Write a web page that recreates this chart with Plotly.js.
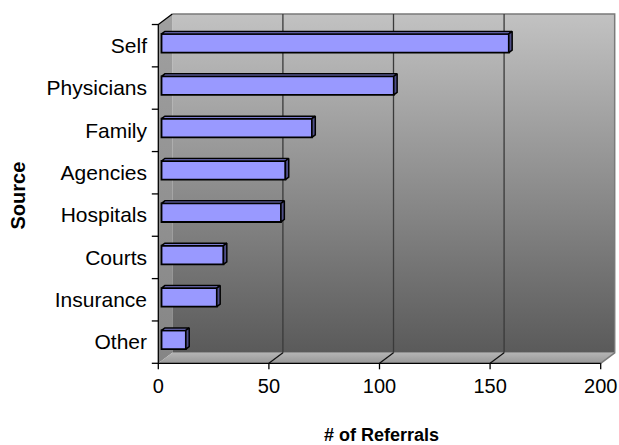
<!DOCTYPE html>
<html>
<head>
<meta charset="utf-8">
<script src="https://cdn.plot.ly/plotly-3.0.1.min.js"></script>
<style>html,body{margin:0;padding:0;background:#fff;}#chart{width:619px;height:445px;}</style>
</head>
<body>
<div id="chart"></div>
<script>
// ---- data (bottom to top) ----
const categories = ['Other', 'Insurance', 'Courts', 'Hospitals', 'Agencies', 'Family', 'Physicians', 'Self'];
const referrals = [11, 25, 28, 54, 56, 68, 105, 157];
const xTickValues = [0, 50, 100, 150, 200];
const xTitle = '# of Referrals';
const yTitle = 'Source';

// ---- geometry / style ----
const PX_X = 2.212, PX_Y = 42.35;           // pixels per data unit
const DX = 14 / PX_X, DY = 10.5 / PX_Y;      // 3-D depth offset in data units
const X_RANGE = [-3.752, 206.92];
const Y_RANGE = [-0.7054, 7.890];
const XMAX = xTickValues[xTickValues.length - 1];
const YLO = -0.5, YHI = categories.length - 0.5;
const F1 = 0.23, F2 = 0.47;                  // bar depth position (fraction of depth)
const HALF = 0.22;                            // half bar thickness
const FONT = 'Liberation Sans, Arial, sans-serif';

const idx = categories.map((c, i) => i);
const traces = [];
const base = {type: 'scatter', mode: 'lines', hoverinfo: 'skip', showlegend: false, xaxis: 'x', yaxis: 'y'};

// back wall
traces.push(Object.assign({}, base, {
  x: [DX, XMAX + DX, XMAX + DX, DX, DX],
  y: [YLO + DY, YLO + DY, YHI + DY, YHI + DY, YLO + DY],
  fill: 'toself', line: {width: 0, color: 'rgba(0,0,0,0)'},
  fillgradient: {type: 'vertical', colorscale: [[0, '#5a5a5a'], [1, '#c2c2c2']]}
}));
// side wall
traces.push(Object.assign({}, base, {
  x: [0, 0, DX, DX, 0],
  y: [YLO, YHI, YHI + DY, YLO + DY, YLO],
  fill: 'toself', line: {width: 0, color: 'rgba(0,0,0,0)'},
  fillgradient: {type: 'vertical', colorscale: [[0, '#858585'], [1, '#a0a0a0']]}
}));
// floor
traces.push(Object.assign({}, base, {
  x: [0, XMAX, XMAX + DX, DX, 0],
  y: [YLO, YLO, YLO + DY, YLO + DY, YLO],
  fill: 'toself', line: {width: 0, color: 'rgba(0,0,0,0)'},
  fillgradient: {type: 'vertical', colorscale: [[0, '#989898'], [1, '#b4b4b4']]}
}));
// back wall border (top + right) and floor right edge
traces.push(Object.assign({}, base, {
  x: [DX, XMAX + DX, XMAX + DX, XMAX],
  y: [YHI + DY, YHI + DY, YLO + DY, YLO],
  line: {width: 1.5, color: '#7a7a7a'}
}));
// gridlines on back wall and floor diagonals
const gx = [], gy = [], fx = [], fy = [];
xTickValues.slice(1, -1).forEach(v => {
  gx.push(v + DX, v + DX, null); gy.push(YLO + DY, YHI + DY, null);
  fx.push(v, v + DX, null); fy.push(YLO, YLO + DY, null);
});
traces.push(Object.assign({}, base, {x: gx, y: gy, line: {width: 1.3, color: '#3a3a3a'}}));
traces.push(Object.assign({}, base, {x: fx, y: fy, line: {width: 1.3, color: '#111111'}}));
// axis lines
traces.push(Object.assign({}, base, {
  x: [XMAX, 0, 0, DX], y: [YLO, YLO, YHI, YHI + DY],
  line: {width: 1.3, color: '#000000'}
}));
// ticks
const tx = [], ty = [];
const TLX = 6.5 / PX_X, TLY = 6 / PX_Y;
for (let k = 0; k <= categories.length; k++) { tx.push(-TLX, 0, null); ty.push(YLO + k, YLO + k, null); }
xTickValues.forEach(v => { tx.push(v, v, null); ty.push(YLO, YLO - TLY, null); });
traces.push(Object.assign({}, base, {x: tx, y: ty, line: {width: 1.3, color: '#000000'}}));

// ---- bars (overlay subplot so they sit above the walls) ----
traces.push({
  type: 'bar', orientation: 'h', xaxis: 'x2', yaxis: 'y2', hoverinfo: 'skip', showlegend: false,
  y: idx.map(i => i + F1 * DY), x: referrals, base: referrals.map(() => F1 * DX),
  width: 2 * HALF,
  marker: {color: '#9999ff', line: {color: '#000000', width: 1.8}}
});
const topX = [], topY = [], sideX = [], sideY = [];
const ddx = (F2 - F1) * DX, ddy = (F2 - F1) * DY;
referrals.forEach((v, i) => {
  const x0 = F1 * DX, x1 = x0 + v;
  const yb = i - HALF + F1 * DY, yt = i + HALF + F1 * DY;
  topX.push(x0, x1, x1 + ddx, x0 + ddx, x0, null);
  topY.push(yt, yt, yt + ddy, yt + ddy, yt, null);
  sideX.push(x1, x1, x1 + ddx, x1 + ddx, x1, null);
  sideY.push(yb, yt, yt + ddy, yb + ddy, yb, null);
});
traces.push({type: 'scatter', mode: 'lines', xaxis: 'x2', yaxis: 'y2', hoverinfo: 'skip', showlegend: false,
  x: topX, y: topY, fill: 'toself', fillcolor: '#7b7bcf', line: {color: '#000000', width: 1.5}});
traces.push({type: 'scatter', mode: 'lines', xaxis: 'x2', yaxis: 'y2', hoverinfo: 'skip', showlegend: false,
  x: sideX, y: sideY, fill: 'toself', fillcolor: '#4f4f88', line: {color: '#000000', width: 1.5}});

const layout = {
  width: 619, height: 445, autosize: false,
  margin: {l: 150, r: 3, t: 8, b: 73},
  paper_bgcolor: '#ffffff', plot_bgcolor: 'rgba(0,0,0,0)',
  font: {family: FONT, size: 20, color: '#000000'},
  showlegend: false,
  xaxis: {range: X_RANGE, tickvals: xTickValues, ticks: '', showgrid: false, zeroline: false, showline: false,
    ticklabelstandoff: 0, tickfont: {family: FONT, size: 20, color: '#000'}, fixedrange: true},
  yaxis: {range: Y_RANGE, tickvals: idx, ticktext: categories, ticks: '', showgrid: false, zeroline: false,
    showline: false, ticklabelstandoff: 2, tickfont: {family: FONT, size: 21, color: '#000'}, fixedrange: true},
  xaxis2: {range: X_RANGE, overlaying: 'x', anchor: 'y2', visible: false, fixedrange: true},
  yaxis2: {range: Y_RANGE, overlaying: 'y', anchor: 'x2', visible: false, fixedrange: true},
  annotations: [
    {text: '<b>' + xTitle + '</b>', xref: 'paper', yref: 'paper', x: (381 - 150) / 466, y: (372 - 435) / 364,
      xanchor: 'center', yanchor: 'middle', showarrow: false, font: {family: FONT, size: 18, color: '#000'}},
    {text: '<b>' + yTitle + '</b>', xref: 'paper', yref: 'paper', x: (17.5 - 150) / 466, y: (372 - 196) / 364,
      xanchor: 'center', yanchor: 'middle', textangle: -90, showarrow: false, font: {family: FONT, size: 20, color: '#000'}}
  ]
};

Plotly.newPlot('chart', traces, layout, {displayModeBar: false, staticPlot: true});
</script>
</body>
</html>
